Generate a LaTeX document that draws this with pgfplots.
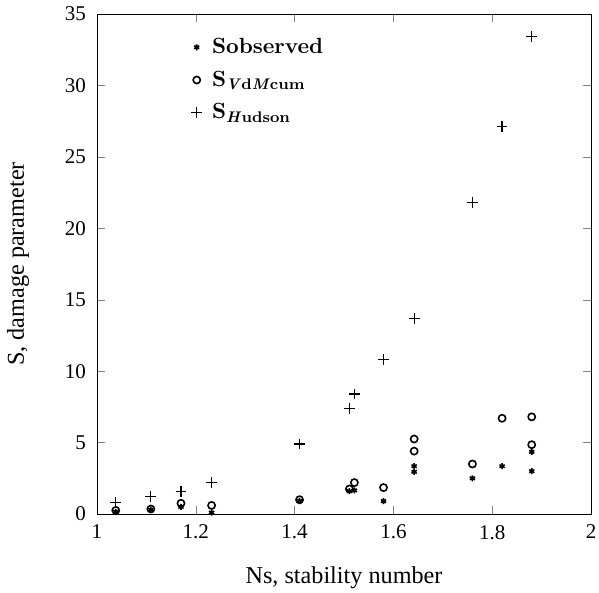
\documentclass[border=0pt]{standalone}
\usepackage{pgfplots}
\pgfplotsset{compat=1.18}
\usepackage{fontspec}
\setmainfont{Liberation Serif}
\newfontfamily\lmfont{Latin Modern Roman}
\begin{document}
\begin{tikzpicture}
\begin{axis}[
    name=ax,
    width=247pt, height=250pt, scale only axis,
    xmin=1, xmax=2, ymin=0, ymax=35,
    xtick={1,1.2,1.4,1.6,1.8,2},
    xticklabels={1,1.2,1.4,1.6,1.8,2},
    ytick={0,5,...,35},
    tick align=inside,
    major tick length=4pt,
    /pgf/number format/assume math mode=true,
    ticklabel style={font=\fontsize{10.5}{12}\selectfont},
    yticklabel style={xshift=-2pt},
    xticklabel style={yshift=-2pt},
    xlabel={Ns, stability number},
    ylabel={S, damage parameter},
    label style={font=\fontsize{12.1}{14}\selectfont},
    xlabel style={yshift=-7pt},
    ylabel style={yshift=11pt},
    legend style={at={(axis cs:1.178,33.9)}, anchor=north west, draw=none, fill=none,
        font=\lmfont\bfseries\fontsize{11}{12}\selectfont, row sep=3.2pt, column sep=3pt},
    legend cell align=left,
]
\addplot[only marks, mark=asterisk, mark size=1.5pt, thick] coordinates {
    (1.038,0.15) (1.109,0.3) (1.170,0.5) (1.232,0.1) (1.41,0.9)
    (1.511,1.6) (1.521,1.65) (1.58,0.9) (1.642,3.35) (1.642,2.95)
    (1.76,2.5) (1.82,3.35) (1.88,4.35) (1.88,3.0)
};
\addplot[only marks, mark=o, mark size=1.8pt, thick] coordinates {
    (1.038,0.25) (1.109,0.35) (1.170,0.75) (1.232,0.6) (1.41,1.0)
    (1.511,1.75) (1.521,2.2) (1.58,1.85) (1.642,5.25) (1.642,4.4)
    (1.76,3.5) (1.82,6.7) (1.88,6.8) (1.88,4.85)
};
\addplot[only marks, mark=+, mark size=2.7pt, semithick] coordinates {
    (1.038,0.8) (1.109,1.2) (1.170,1.6) (1.232,2.2) (1.41,4.9)
    (1.511,7.4) (1.521,8.4) (1.58,10.8) (1.642,13.7)
    (1.76,21.8) (1.82,27.1) (1.88,33.4)
};
\legend{Sobserved, S\textsubscript{\textit{V}d\textit{M}cum}, S\textsubscript{\textit{H}udson}}
\end{axis}
\pgfresetboundingbox
\path ([shift={(-48.5pt,-39.5pt)}]ax.south west) rectangle ([shift={(4pt,7pt)}]ax.north east);
\end{tikzpicture}
\end{document}
